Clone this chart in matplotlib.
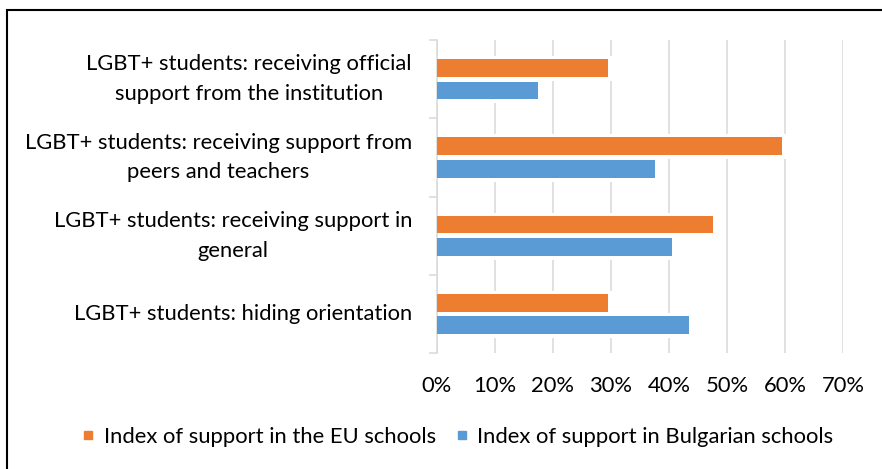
import matplotlib
matplotlib.use("Agg")
import matplotlib.pyplot as plt
from matplotlib.lines import Line2D
from matplotlib.patches import Rectangle
from matplotlib.transforms import offset_copy
import numpy as np

categories = [
    "LGBT+ students: receiving official\nsupport from the institution",
    "LGBT+ students: receiving support from\npeers and teachers",
    "LGBT+ students: receiving support in\ngeneral",
    "LGBT+ students: hiding orientation",
]
eu_values = [29.5, 59.5, 47.5, 29.5]
bg_values = [17.4, 37.5, 40.5, 43.5]
series_names = ["Index of support in the EU schools", "Index of support in Bulgarian schools"]
x_ticks = [0, 10, 20, 30, 40, 50, 60, 70]
x_tick_labels = ["0%", "10%", "20%", "30%", "40%", "50%", "60%", "70%"]

ORANGE = "#ED7D31"
BLUE = "#5B9BD5"
GRID = "#D9D9D9"
FONT = "Lato"
FS = 15.8

plt.rcParams["font.family"] = [FONT, "DejaVu Sans"]

DPI = 100
W, H = 882, 469
fig = plt.figure(figsize=(W / DPI, H / DPI), dpi=DPI)
left, right, top, bottom = 436.7, 843.3, 40, 353.3
ax = fig.add_axes([left / W, 1 - bottom / H, (right - left) / W, (bottom - top) / H])

y = np.arange(len(categories))
off = 0.143
h = 0.226
halo = 7 * 72 / DPI

for vals, sign, col in [(eu_values, -1, ORANGE), (bg_values, 1, BLUE)]:
    ax.barh(y + sign * off, vals, height=h, color="white", edgecolor="white",
            linewidth=halo, zorder=2)
for vals, sign, col in [(eu_values, -1, ORANGE), (bg_values, 1, BLUE)]:
    ax.barh(y + sign * off, vals, height=h, color=col, linewidth=0, zorder=3)

ax.set_xlim(0, 70)
ax.set_ylim(len(categories) - 0.5, -0.5)
ax.set_xticks(x_ticks)
ax.set_xticklabels(x_tick_labels, fontsize=FS, color="#000000")
ax.grid(axis="x", color=GRID, linewidth=1.1, zorder=0)
ax.set_axisbelow(True)
ax.tick_params(axis="x", length=0, pad=16)

ax.set_yticks(y)
ax.set_yticklabels([])
ax.set_yticks(np.arange(len(categories) + 1) - 0.5, minor=True)
ax.tick_params(axis="y", which="major", length=0)
ax.tick_params(axis="y", which="minor", length=6, width=1.1, color=GRID)

label_tr = offset_copy(ax.get_yaxis_transform(), fig=fig, x=-(left - 412) * 72 / DPI,
                       y=0, units="points")
for yi, cat in zip(y, categories):
    ax.text(0, yi, cat, transform=label_tr, ha="right", va="center",
            multialignment="center", fontsize=FS, linespacing=1.62, color="#000000")

for s in ["top", "right", "bottom"]:
    ax.spines[s].set_visible(False)
ax.spines["left"].set_color(GRID)
ax.spines["left"].set_linewidth(1.1)

handles = [Line2D([], [], marker="s", linestyle="none", markersize=6, color=ORANGE),
           Line2D([], [], marker="s", linestyle="none", markersize=6, color=BLUE)]
fig.legend(handles, series_names, loc="center", bbox_to_anchor=(456.5 / W, 1 - 437 / H),
           ncol=2, frameon=False, fontsize=FS, handletextpad=0.3, columnspacing=0.8,
           handlelength=0.8)

fig.add_artist(Rectangle((7 / W, -0.1), 1.2, (H - 10.5) / H + 0.1, transform=fig.transFigure,
                         fill=False, edgecolor="black", linewidth=1.5))

fig.savefig("out.png", dpi=DPI)
